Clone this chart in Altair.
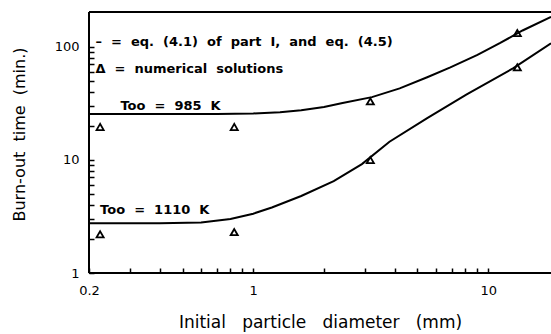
import altair as alt
import pandas as pd

# --- curve data (eq. 4.1 / 4.5) ---
upper_x = [0.2, 0.4, 0.7, 1.0, 1.3, 1.6, 2.0, 2.4, 3.2, 4.2, 5.5, 6.9, 9.0, 11.2, 14.0, 18.5]
upper_y = [25.5, 25.5, 25.5, 25.8, 26.5, 27.5, 29.5, 32, 36, 43, 54, 66, 85, 108, 140, 185]
lower_x = [0.2, 0.4, 0.6, 0.8, 1.0, 1.2, 1.6, 2.2, 2.9, 3.8, 5.5, 8.1, 12.8, 18.5]
lower_y = [2.75, 2.75, 2.8, 3.0, 3.35, 3.8, 4.8, 6.5, 9.2, 14.5, 23.5, 38, 65, 108]

# --- numerical solutions (triangles) ---
num_x = [0.223, 0.83, 3.15, 13.3]
num_upper = [19.6, 19.6, 33, 133]
num_lower = [2.2, 2.3, 10, 66]

# --- axis ticks ---
x_labels = [0.2, 1, 10]
y_labels = [1, 10, 100]
x_tick_values = [0.2, 0.3, 0.4, 0.5, 0.6, 0.7, 0.8, 0.9, 1, 2, 3, 4, 5, 6, 7, 8, 9, 10]
y_tick_values = [1, 2, 3, 4, 5, 6, 7, 8, 9, 10, 20, 30, 40, 50, 60, 70, 80, 90, 100]

x_domain = [0.2, 18.5]
y_domain = [1, 204]

NB = "\u00a0"
def spaced(s, n=2):
    return s.replace(" ", NB * n)

# --- annotations (text, anchored in data coordinates) ---
ann_text = [
    spaced("\u2013 = eq. (4.1) of part I, and eq. (4.5)"),
    spaced("\u0394 = numerical solutions"),
    spaced("Too = 985 K"),
    spaced("Too = 1110 K"),
]
ann_x = [0.213, 0.213, 0.272, 0.223]
ann_y = [111, 64, 30.1, 3.61]

FONT = "DejaVu Sans"

lines_df = pd.DataFrame(
    {"x": upper_x + lower_x,
     "y": upper_y + lower_y,
     "series": ["985 K"] * len(upper_x) + ["1110 K"] * len(lower_x)}
)
pts_df = pd.DataFrame(
    {"x": num_x + num_x, "y": num_upper + num_lower,
     "series": ["985 K"] * len(num_x) + ["1110 K"] * len(num_x)}
)
ann_df = pd.DataFrame({"x": ann_x, "y": ann_y, "t": ann_text})
frame_df = pd.DataFrame({"k": [0]})

xs = alt.Scale(type="log", domain=x_domain, nice=False)
ys = alt.Scale(type="log", domain=y_domain, nice=False)

def label_expr(vals):
    cond = " || ".join(f"datum.value == {v}" for v in vals)
    return f"({cond}) ? format(datum.value, '~g') : ''"

# axes are shifted inside the frame so that their ticks point inward
x_axis = alt.Axis(
    values=x_tick_values, labelExpr=label_expr(x_labels),
    ticks=True, tickSize=5, tickWidth=1.5, tickColor="black",
    offset=-5, grid=False, domain=False, zindex=2,
    labelFont=FONT, labelFontSize=13, labelColor="black",
    labelPadding=11, labelFlush=False, labelOverlap=False, labelBound=False,
    title=spaced("Initial particle diameter (mm)", 3),
    titleFont=FONT, titleFontSize=17, titleFontWeight="normal",
    titleColor="black", titlePadding=17,
)
y_axis = alt.Axis(
    values=y_tick_values, labelExpr=label_expr(y_labels),
    ticks=True, tickSize=5, tickWidth=1.5, tickColor="black",
    offset=-5, grid=False, domain=False, zindex=2,
    labelFont=FONT, labelFontSize=13, labelColor="black",
    labelPadding=10, labelFlush=False, labelOverlap=False, labelBound=False,
    title=spaced("Burn-out time (min.)", 2),
    titleFont=FONT, titleFontSize=16, titleFontWeight="normal",
    titleColor="black", titlePadding=27, titleY=122,
)

X = alt.X("x:Q", scale=xs, axis=x_axis)
Y = alt.Y("y:Q", scale=ys, axis=y_axis)

curves = alt.Chart(lines_df).mark_line(color="black", strokeWidth=2).encode(
    x=X, y=Y, detail="series:N",
)

points = alt.Chart(pts_df).mark_point(
    shape="triangle-up", filled=False, color="black", size=50,
    strokeWidth=1.8, opacity=1,
).encode(x=X, y=Y)

texts = alt.Chart(ann_df).mark_text(
    align="left", baseline="middle", font=FONT, fontSize=13,
    fontWeight="bold", color="black",
).encode(x=X, y=Y, text="t:N")

# frame: left, bottom and top edges of the plot (no right edge in the original)
left_rule = alt.Chart(frame_df).mark_rule(color="black", strokeWidth=2).encode(
    x=alt.XDatum(x_domain[0], scale=xs, axis=x_axis),
)
bottom_rule = alt.Chart(frame_df).mark_rule(color="black", strokeWidth=2).encode(
    y=alt.YDatum(y_domain[0], scale=ys, axis=y_axis),
)
top_rule = alt.Chart(frame_df).mark_rule(color="black", strokeWidth=2).encode(
    y=alt.YDatum(y_domain[1], scale=ys, axis=y_axis),
)

chart = alt.layer(
    curves, points, texts, left_rule, bottom_rule, top_rule
).properties(
    width=462, height=261,
    autosize=alt.AutoSizeParams(type="none"),
    padding={"left": 89, "top": 12, "right": 0, "bottom": 61},
    background="white",
).configure_view(stroke=None)

chart.save("out.html", embed_options={"renderer": "svg", "actions": False})
